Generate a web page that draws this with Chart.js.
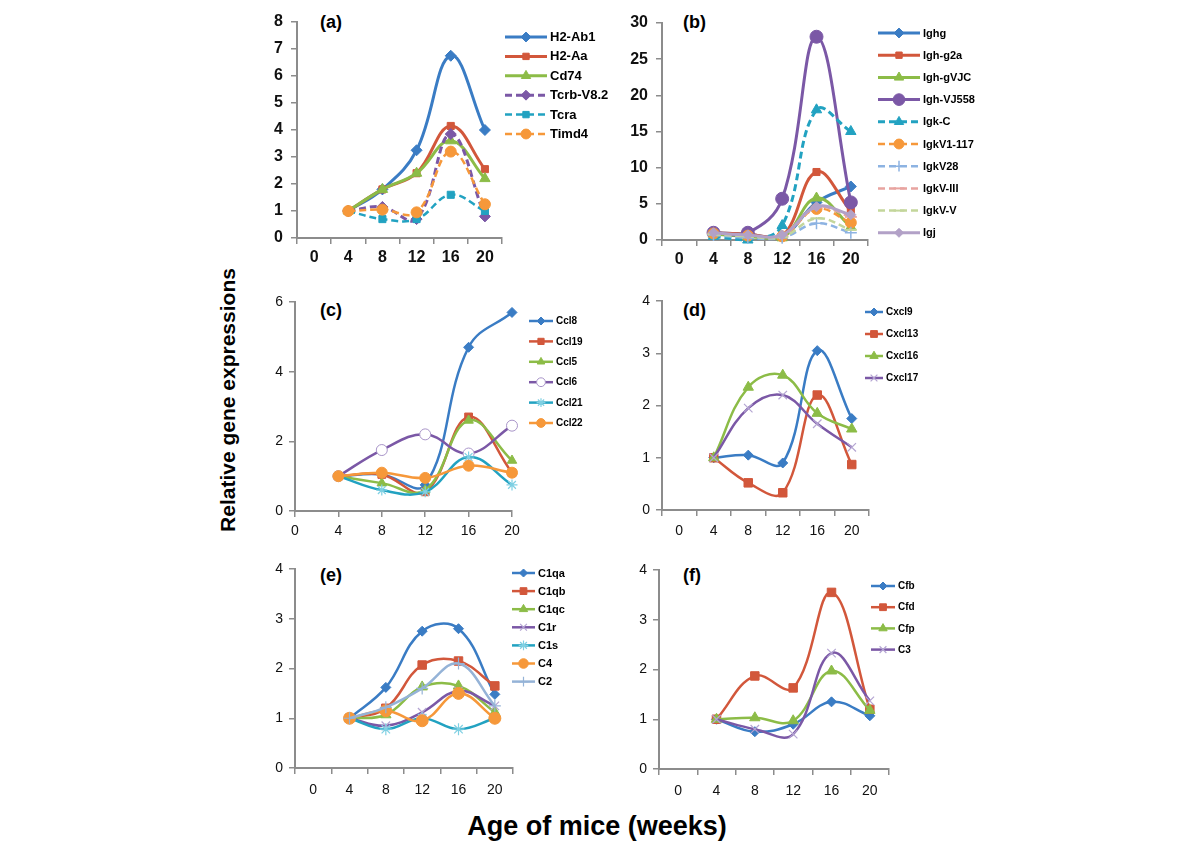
<!DOCTYPE html>
<html>
<head>
<meta charset="utf-8">
<script src="https://cdn.jsdelivr.net/npm/chart.js@4.4.1/dist/chart.umd.min.js"></script>
<style>
  body { margin: 0; background: #fff; width: 1200px; height: 849px; position: relative; overflow: hidden;
         font-family: 'Liberation Sans', Arial, sans-serif; }
  canvas { position: absolute; }
  .tag { position: absolute; font-weight: bold; font-size: 18px; line-height: 18px; color: #000; }
  #ytitle { position: absolute; left: 228px; top: 400px; transform: translate(-50%, -50%) rotate(-90deg);
            font-weight: bold; font-size: 21px; white-space: nowrap; }
  #xtitle { position: absolute; left: 597px; top: 826px; transform: translate(-50%, -50%);
            font-weight: bold; font-size: 27px; white-space: nowrap; }
</style>
</head>
<body>
<div class="tag" style="left:320px;top:13px">(a)</div>
<div class="tag" style="left:683px;top:13px">(b)</div>
<div class="tag" style="left:320px;top:301px">(c)</div>
<div class="tag" style="left:683px;top:301px">(d)</div>
<div class="tag" style="left:320px;top:566px">(e)</div>
<div class="tag" style="left:683px;top:566px">(f)</div>
<div id="ytitle">Relative gene expressions</div>
<div id="xtitle">Age of mice (weeks)</div>

<script>
// x categories (age in weeks), no value at week 0
const weeks = ['0', '4', '8', '12', '16', '20'];

// ---- (a) ----
const h2Ab1   = [null, 1.0, 1.8, 3.25, 6.75, 4.0];
const h2Aa    = [null, 1.0, 1.8, 2.4, 4.15, 2.55];
const cd74    = [null, 1.0, 1.8, 2.4, 3.6, 2.2];
const tcrbV82 = [null, 1.0, 1.15, 0.7, 3.85, 0.8];
const tcra    = [null, 1.0, 0.7, 0.7, 1.6, 1.0];
const timd4   = [null, 1.0, 1.05, 0.95, 3.2, 1.25];

// ---- (b) ----
const ighg     = [null, 1.0, 0.8, 0.5, 5.2, 7.4];
const ighG2a   = [null, 1.0, 0.8, 0.5, 9.4, 4.0];
const ighGVJC  = [null, 0.8, 0.5, 0.3, 5.8, 1.8];
const ighVJ558 = [null, 1.0, 1.0, 5.7, 28.1, 5.2];
const igkC     = [null, 0.5, 0.0, 2.0, 18.0, 15.0];
const igkV1117 = [null, 0.9, 0.6, 0.5, 4.3, 2.4];
const igkV28   = [null, 0.7, 0.3, 0.3, 2.3, 1.0];
const igkVIII  = [null, 0.9, 0.6, 0.6, 4.5, 3.2];
const igkVV    = [null, 0.8, 0.5, 0.4, 3.0, 1.4];
const igj      = [null, 1.0, 0.7, 0.7, 4.6, 3.5];

// ---- (c) ----
const ccl8  = [null, 1.0, 1.05, 0.75, 4.7, 5.7];
const ccl19 = [null, 1.0, 1.05, 0.55, 2.7, 1.1];
const ccl5  = [null, 1.0, 0.8, 0.6, 2.6, 1.45];
const ccl6  = [null, 1.0, 1.75, 2.2, 1.65, 2.45];
const ccl21 = [null, 1.0, 0.6, 0.55, 1.55, 0.75];
const ccl22 = [null, 1.0, 1.1, 0.95, 1.3, 1.1];

// ---- (d) ----
const cxcl9  = [null, 1.0, 1.05, 0.9, 3.05, 1.75];
const cxcl13 = [null, 1.0, 0.52, 0.33, 2.2, 0.87];
const cxcl16 = [null, 1.0, 2.35, 2.58, 1.85, 1.55];
const cxcl17 = [null, 1.0, 1.95, 2.2, 1.65, 1.2];

// ---- (e) ----
const c1qa = [null, 1.0, 1.62, 2.75, 2.8, 1.48];
const c1qb = [null, 1.0, 1.2, 2.07, 2.15, 1.65];
const c1qc = [null, 1.0, 1.07, 1.63, 1.65, 1.12];
const c1r  = [null, 1.0, 0.85, 1.12, 1.55, 1.25];
const c1s  = [null, 1.0, 0.78, 1.0, 0.78, 1.0];
const c4   = [null, 1.0, 1.15, 0.95, 1.5, 1.0];
const c2   = [null, 1.0, 1.22, 1.6, 2.1, 1.25];

// ---- (f) ----
const cfb = [null, 1.0, 0.75, 0.9, 1.35, 1.07];
const cfd = [null, 1.0, 1.87, 1.63, 3.55, 1.2];
const cfp = [null, 1.0, 1.03, 0.97, 1.97, 1.18];
const c3  = [null, 1.0, 0.8, 0.7, 2.33, 1.37];

Chart.defaults.font.family = "'Liberation Sans', Arial, sans-serif";

const BLUE = '#3a7cc4', RED = '#d2573b', GREEN = '#8cbc47', PURPLE = '#7b58a6',
      AQUA = '#22a2c1', ORANGE = '#f6983a';

function line(label, data, color, style, r, o) {
    o = o || {};
    return {
        label: label,
        data: data,
        borderColor: color,
        borderWidth: o.width || 2.5,
        borderDash: o.dash || [],
        pointStyle: style,
        pointRadius: r,
        pointBackgroundColor: o.fill || color,
        pointBorderColor: o.mark || color,
        pointBorderWidth: o.pbw || 1,
        tension: 0.4,
        clip: false,
        spanGaps: false
    };
}

// legend drawn beside each panel: line sample, marker, name
const sideLegend = {
    id: 'sideLegend',
    afterDraw(chart, args, opts) {
        const ctx = chart.ctx;
        chart.data.datasets.forEach((ds, i) => {
            const y = opts.y + i * opts.step;
            ctx.save();
            ctx.strokeStyle = ds.borderColor;
            ctx.lineWidth = ds.borderWidth;
            ctx.setLineDash(ds.borderDash || []);
            ctx.beginPath();
            ctx.moveTo(opts.x, y);
            ctx.lineTo(opts.x + opts.len, y);
            ctx.stroke();
            ctx.setLineDash([]);
            if (Chart.helpers && Chart.helpers.drawPoint) {
                ctx.fillStyle = ds.pointBackgroundColor;
                ctx.strokeStyle = ds.pointBorderColor;
                ctx.lineWidth = ds.pointBorderWidth;
                Chart.helpers.drawPoint(ctx, {
                    pointStyle: ds.pointStyle, rotation: 0,
                    radius: ds.pointRadius * opts.scale, borderWidth: ds.pointBorderWidth
                }, opts.x + opts.len / 2, y);
            }
            ctx.fillStyle = '#000';
            ctx.font = opts.font;
            ctx.textBaseline = 'middle';
            ctx.textAlign = 'left';
            ctx.fillText(ds.label, opts.x + opts.len + 3, y + 0.5);
            ctx.restore();
        });
    }
};

function panel(p) {
    const left = p.x0 - 60, top = p.yTop - 20;
    const width = p.legX + p.legLen + 110 - left;
    const height = (p.yBot - p.yTop) + 20 + 45;
    const cv = document.createElement('canvas');
    cv.width = width; cv.height = height;
    cv.style.left = left + 'px'; cv.style.top = top + 'px';
    cv.style.width = width + 'px'; cv.style.height = height + 'px';
    document.body.appendChild(cv);

    p.datasets.forEach((d, i) => { d.order = -i; });

    new Chart(cv.getContext('2d'), {
        type: 'line',
        data: { labels: weeks, datasets: p.datasets },
        options: {
            responsive: false,
            animation: false,
            events: [],
            layout: { padding: { top: 20, left: 0, bottom: 0, right: width - 60 - (p.x1 - p.x0) } },
            plugins: {
                legend: { display: false },
                tooltip: { enabled: false },
                sideLegend: { x: p.legX - left, y: p.legY - top, step: p.legStep, len: p.legLen,
                              font: p.legFont, scale: p.legScale || 0.9 }
            },
            scales: {
                x: {
                    type: 'category',
                    offset: p.offset,
                    grid: { offset: p.offset, drawOnChartArea: false, tickLength: 6, color: '#8c8c8c', lineWidth: 1.5 },
                    border: { color: '#8c8c8c', width: 2 },
                    ticks: { font: p.tickFont, color: '#111', padding: p.xPad, autoSkip: false, maxRotation: 0 },
                    afterFit: s => { s.height = 45; }
                },
                y: {
                    min: 0, max: p.yMax,
                    grid: { drawOnChartArea: false, tickLength: 6, color: '#8c8c8c', lineWidth: 1.5 },
                    border: { color: '#8c8c8c', width: 2 },
                    ticks: { stepSize: p.yStep, font: p.tickFont, color: '#111', padding: p.yPad },
                    afterFit: s => { s.width = 60; }
                }
            }
        },
        plugins: [sideLegend]
    });
}

const bigTicks = { size: 16, weight: 'bold' };
const smallTicks = { size: 14 };

panel({
    x0: 297, x1: 502, yTop: 22, yBot: 238, yMax: 8, yStep: 1, offset: true,
    tickFont: bigTicks, xPad: 4, yPad: 8,
    legX: 505, legY: 37, legStep: 19.4, legLen: 42, legFont: 'bold 13px "Liberation Sans", Arial',
    datasets: [
        line('H2-Ab1', h2Ab1, BLUE, 'rectRot', 5.5, { width: 3 }),
        line('H2-Aa', h2Aa, RED, 'rect', 5, { width: 3 }),
        line('Cd74', cd74, GREEN, 'triangle', 6, { width: 3 }),
        line('Tcrb-V8.2', tcrbV82, PURPLE, 'rectRot', 5.5, { width: 3, dash: [7, 4] }),
        line('Tcra', tcra, AQUA, 'rect', 5, { width: 2.5, dash: [7, 4] }),
        line('Timd4', timd4, ORANGE, 'circle', 5.5, { width: 2.5, dash: [7, 4] })
    ]
});

panel({
    x0: 662, x1: 868, yTop: 23, yBot: 240, yMax: 30, yStep: 5, offset: true,
    tickFont: bigTicks, xPad: 4, yPad: 8,
    legX: 878, legY: 33, legStep: 22.2, legLen: 42, legFont: 'bold 11px "Liberation Sans", Arial',
    datasets: [
        line('Ighg', ighg, BLUE, 'rectRot', 5.5, { width: 3 }),
        line('Igh-g2a', ighG2a, RED, 'rect', 5, { width: 3 }),
        line('Igh-gVJC', ighGVJC, GREEN, 'triangle', 6, { width: 3 }),
        line('Igh-VJ558', ighVJ558, PURPLE, 'circle', 6.5, { width: 3 }),
        line('Igk-C', igkC, AQUA, 'triangle', 6, { width: 3, dash: [7, 4] }),
        line('IgkV1-117', igkV1117, ORANGE, 'circle', 5.5, { width: 2.5, dash: [7, 4] }),
        line('IgkV28', igkV28, '#8db3e2', 'cross', 6, { width: 2.5, dash: [7, 4], pbw: 1.5 }),
        line('IgkV-III', igkVIII, '#e8a4a0', 'line', 6, { width: 2.5, dash: [7, 4], pbw: 2 }),
        line('IgkV-V', igkVV, '#c3d69b', 'line', 6, { width: 2.5, dash: [7, 4], pbw: 2 }),
        line('Igj', igj, '#b2a1c7', 'rectRot', 5, { width: 3 })
    ]
});

panel({
    x0: 295, x1: 512, yTop: 302, yBot: 511, yMax: 6, yStep: 2, offset: false,
    tickFont: smallTicks, xPad: 6, yPad: 6,
    legX: 529, legY: 321, legStep: 20.4, legLen: 24, legFont: 'bold 10px "Liberation Sans", Arial',
    legScale: 0.8,
    datasets: [
        line('Ccl8', ccl8, BLUE, 'rectRot', 5, {}),
        line('Ccl19', ccl19, RED, 'rect', 5.5, {}),
        line('Ccl5', ccl5, GREEN, 'triangle', 5.5, {}),
        line('Ccl6', ccl6, PURPLE, 'circle', 5.5, { fill: '#fff', mark: '#a894c8' }),
        line('Ccl21', ccl21, AQUA, 'star', 5.5, { mark: '#7fd0e3', pbw: 1.2 }),
        line('Ccl22', ccl22, ORANGE, 'circle', 5.5, {})
    ]
});

panel({
    x0: 662, x1: 869, yTop: 301, yBot: 510, yMax: 4, yStep: 1, offset: true,
    tickFont: smallTicks, xPad: 7, yPad: 6,
    legX: 865, legY: 312, legStep: 22, legLen: 18, legFont: 'bold 10px "Liberation Sans", Arial',
    legScale: 0.8,
    datasets: [
        line('Cxcl9', cxcl9, BLUE, 'rectRot', 5, {}),
        line('Cxcl13', cxcl13, RED, 'rect', 6, {}),
        line('Cxcl16', cxcl16, GREEN, 'triangle', 6, {}),
        line('Cxcl17', cxcl17, PURPLE, 'crossRot', 6, { mark: '#b4a5d2', pbw: 1.2 })
    ]
});

panel({
    x0: 295, x1: 513, yTop: 569, yBot: 768, yMax: 4, yStep: 1, offset: true,
    tickFont: smallTicks, xPad: 8, yPad: 6,
    legX: 512, legY: 573, legStep: 18.1, legLen: 23, legFont: 'bold 11px "Liberation Sans", Arial',
    legScale: 0.8,
    datasets: [
        line('C1qa', c1qa, BLUE, 'rectRot', 5, {}),
        line('C1qb', c1qb, RED, 'rect', 6, {}),
        line('C1qc', c1qc, GREEN, 'triangle', 6, {}),
        line('C1r', c1r, PURPLE, 'crossRot', 6, { mark: '#b4a5d2', pbw: 1.2 }),
        line('C1s', c1s, AQUA, 'star', 6, { mark: '#7fd0e3', pbw: 1.2 }),
        line('C4', c4, ORANGE, 'circle', 6, {}),
        line('C2', c2, '#95b3d7', 'cross', 6, { pbw: 1.2 })
    ]
});

panel({
    x0: 659, x1: 889, yTop: 570, yBot: 769, yMax: 4, yStep: 1, offset: true,
    tickFont: smallTicks, xPad: 8, yPad: 6,
    legX: 871, legY: 586, legStep: 21.2, legLen: 24, legFont: 'bold 10px "Liberation Sans", Arial',
    legScale: 0.8,
    datasets: [
        line('Cfb', cfb, BLUE, 'rectRot', 5, {}),
        line('Cfd', cfd, RED, 'rect', 6, {}),
        line('Cfp', cfp, GREEN, 'triangle', 6, {}),
        line('C3', c3, PURPLE, 'crossRot', 6, { mark: '#b4a5d2', pbw: 1.2 })
    ]
});
</script>
</body>
</html>
